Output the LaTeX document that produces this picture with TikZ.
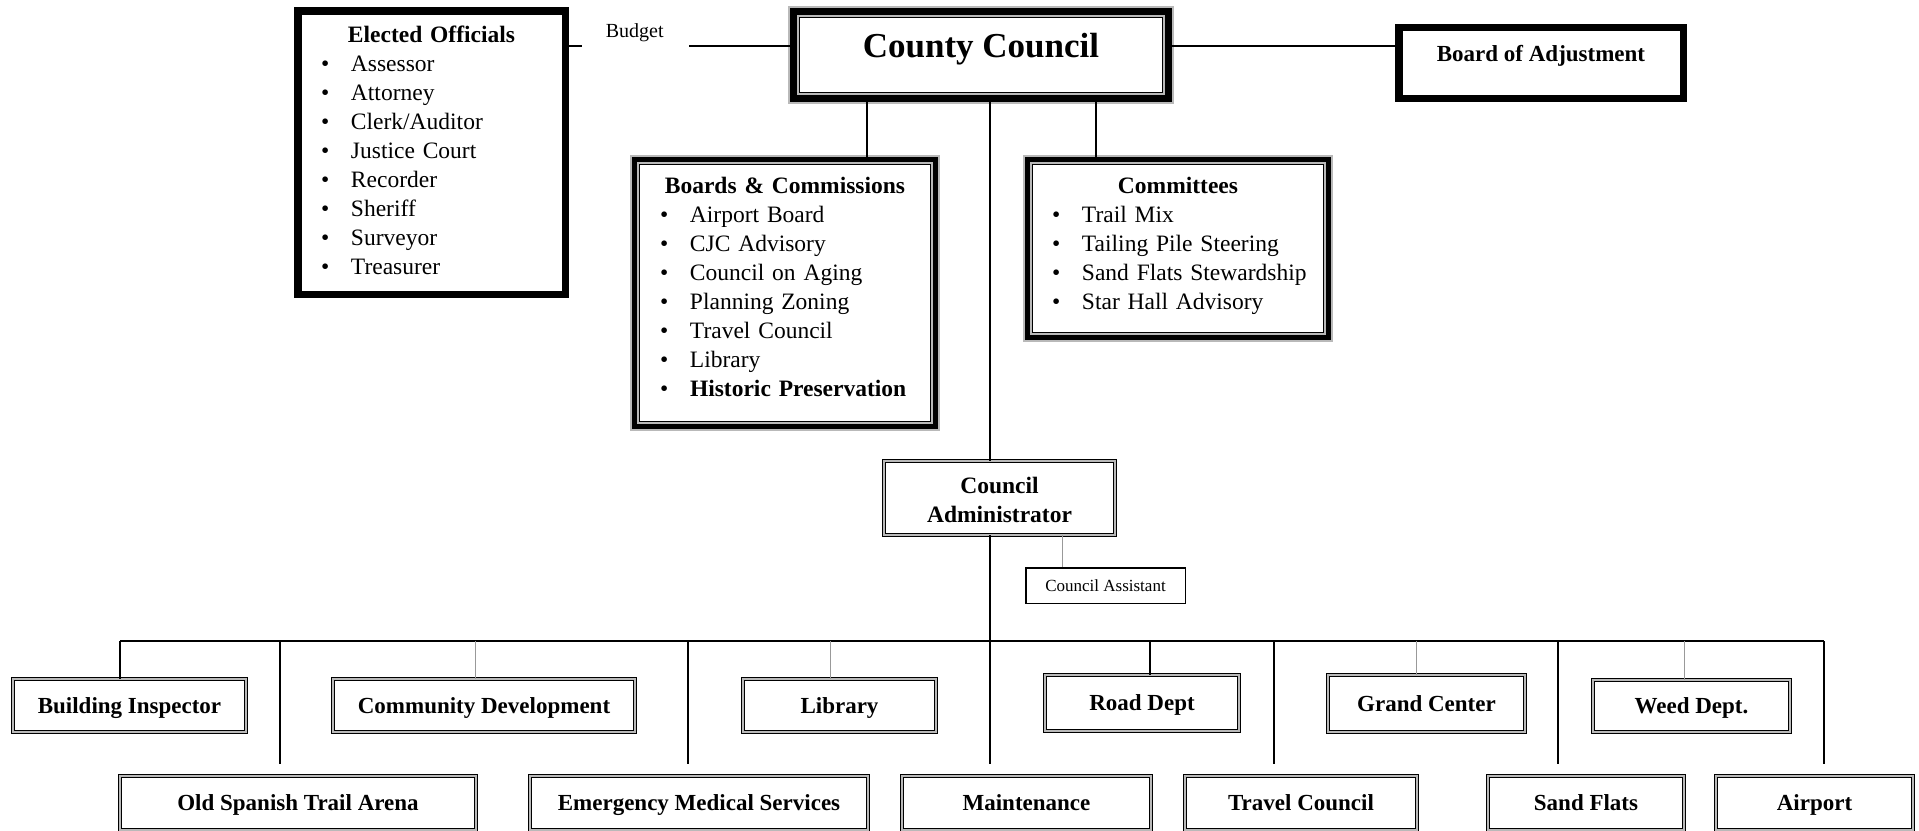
\documentclass[tikz,border=0pt]{standalone}
\usepackage{fontspec}
\setmainfont{Liberation Serif}
\usetikzlibrary{positioning}

\newcommand{\itm}[1]{\makebox[30pt][l]{\textbullet}\mbox{#1}}
\newcommand{\hd}[1]{\makebox[\hsize]{\textbf{#1}}}

\begin{document}
\begin{tikzpicture}[x=1pt,y=-1pt,on grid,
	every node/.style={font=\fontsize{23.5}{29}\selectfont,inner sep=0pt},
	link/.style={line width=1.3pt},
	sublink/.style={line width=1pt,gray!80},
	heavy/.style={draw,line width=7.5pt},
	ccframe/.style={preaction={draw=gray!55,line width=11pt},draw,line width=7pt,
		path picture={\draw[line width=1.5pt] ([shift={(6pt,-6pt)}]path picture bounding box.north west) rectangle ([shift={(-6pt,6pt)}]path picture bounding box.south east);}},
	listframe/.style={preaction={draw=gray!55,line width=9pt},draw,line width=5pt,
		path picture={\draw[line width=1.2pt] ([shift={(5pt,-5pt)}]path picture bounding box.north west) rectangle ([shift={(-5pt,5pt)}]path picture bounding box.south east);}},
	bullets/.style={align=left,inner xsep=#1},
	dept/.style={draw,line width=1.1pt,double=gray!55,double distance=2.2pt,font=\fontsize{23}{28}\selectfont\bfseries,text height=15.5pt,text depth=0pt},
	lower/.style={dept,minimum height=53.6pt}
	]
	\useasboundingbox (0,0) rectangle (1919,830);
	\clip (0,0) rectangle (1919,830);

	\node[ccframe,minimum width=375pt,minimum height=87pt,text height=24pt,text depth=20pt,font=\fontsize{35}{40}\selectfont\bfseries] (cc) at (981,55) {County Council};
	\node[heavy,minimum width=284.5pt,minimum height=71pt,text height=16pt,text depth=18.6pt,font=\fontsize{23}{28}\selectfont\bfseries] (boa) at (1541,63) {Board of Adjustment};
	\node[heavy,bullets=23.25pt,text width=221pt,minimum width=267.5pt,minimum height=283.5pt,text height=16pt,text depth=237pt] (eo) at (431.5,152.5)
		{\hd{Elected Officials}\\\itm{Assessor}\\\itm{Attorney}\\\itm{Clerk/Auditor}\\\itm{Justice Court}\\\itm{Recorder}\\\itm{Sheriff}\\\itm{Surveyor}\\\itm{Treasurer}};
	\node[above left=24.6pt and 346.3pt of cc,font=\fontsize{20}{24}\selectfont,text height=13.2pt,text depth=0pt] (budget) {Budget};
	\node[listframe,bullets=25.5pt,text width=250pt,minimum width=301pt,minimum height=267pt,text height=16pt,text depth=216pt] (bc) at (785,293)
		{\hd{Boards \& Commissions}\\\itm{Airport Board}\\\itm{CJC Advisory}\\\itm{Council on Aging}\\\itm{Planning Zoning}\\\itm{Travel Council}\\\itm{Library}\\\itm{\textbf{Historic Preservation}}};
	\node[listframe,bullets=24.5pt,text width=252pt,minimum width=301pt,minimum height=178pt,text height=16pt,text depth=127pt] (cm) at (1178,248.5)
		{\hd{Committees}\\\itm{Trail Mix}\\\itm{Tailing Pile Steering}\\\itm{Sand Flats Stewardship}\\\itm{Star Hall Advisory}};
	\node[dept,align=center,text width=200pt,minimum width=230.6pt,minimum height=73.6pt,text height=20pt,text depth=30pt,font=\fontsize{23.5}{29}\selectfont\bfseries] (adm) at (999.5,498) {Council\\Administrator};
	\node[draw,line width=1.5pt,minimum width=159.5pt,minimum height=35.5pt,text height=11.3pt,text depth=0pt,font=\fontsize{17}{20}\selectfont,below right=87.5pt and 106pt of adm] (ast) {Council Assistant};

	\node[dept,minimum width=232.6pt,minimum height=52.6pt] (bi) at (129.5,705.5) {Building Inspector};
	\node[dept,minimum width=301.6pt,minimum height=52.6pt] (cd) at (484,705.5) {Community Development};
	\node[dept,minimum width=192.6pt,minimum height=52.6pt] (lib) at (839.5,705.5) {Library};
	\node[dept,minimum width=193.6pt,minimum height=55.6pt] (road) at (1142,703) {Road Dept};
	\node[dept,minimum width=196.6pt,minimum height=56.6pt] (grand) at (1426.5,703.5) {Grand Center};
	\node[dept,minimum width=196.6pt,minimum height=51.6pt] (weed) at (1691.5,706) {Weed Dept.};
	\node[lower,minimum width=355.6pt] (osta) at (298,803) {Old Spanish Trail Arena};
	\node[lower,minimum width=337.6pt] (ems) at (699,803) {Emergency Medical Services};
	\node[lower,minimum width=248.6pt] (mnt) at (1026.5,803) {Maintenance};
	\node[lower,minimum width=231.6pt] (travel) at (1301,803) {Travel Council};
	\node[lower,minimum width=195.6pt] (sand) at (1586,803) {Sand Flats};
	\node[lower,minimum width=196.6pt] (air) at (1814.5,803) {Airport};

	\coordinate (bl) at (582,46);
	\coordinate (br) at (689,46);
	\coordinate (spine) at (990,764);
	\coordinate (barL) at (120,641);
	\coordinate (barR) at (1824,641);

	\draw[link] (eo.east |- bl) -- (bl);
	\draw[link] (br) -- (cc.west |- br);
	\draw[link] (cc.east |- br) -- (boa.west |- br);
	\draw[link] (cc.south -| 867,0) -- (bc.north -| 867,0);
	\draw[link] (cc.south -| 1096,0) -- (cm.north -| 1096,0);
	\draw[link] (cc.south -| spine) -- (adm.north -| spine);
	\draw[link] (adm.south -| spine) -- (spine);
	\draw[sublink] (adm.south -| 1062,0) -- (ast.north -| 1062,0);
	\draw[link] (barL) -- (barR);
	\path[link] (barL) edge (barL |- bi.north)
		(barL -| 1150,0) edge (road.north -| 1150,0)
		(barL -| 280,0) edge (spine -| 280,0)
		(barL -| 688,0) edge (spine -| 688,0)
		(barL -| 1274,0) edge (spine -| 1274,0)
		(barL -| 1558,0) edge (spine -| 1558,0)
		(barR) edge (spine -| barR);
	\path[sublink] (barL -| 475,0) edge (cd.north -| 475,0)
		(barL -| 830,0) edge (lib.north -| 830,0)
		(barL -| 1416,0) edge (grand.north -| 1416,0)
		(barL -| 1684,0) edge (weed.north -| 1684,0);
\end{tikzpicture}
\end{document}
